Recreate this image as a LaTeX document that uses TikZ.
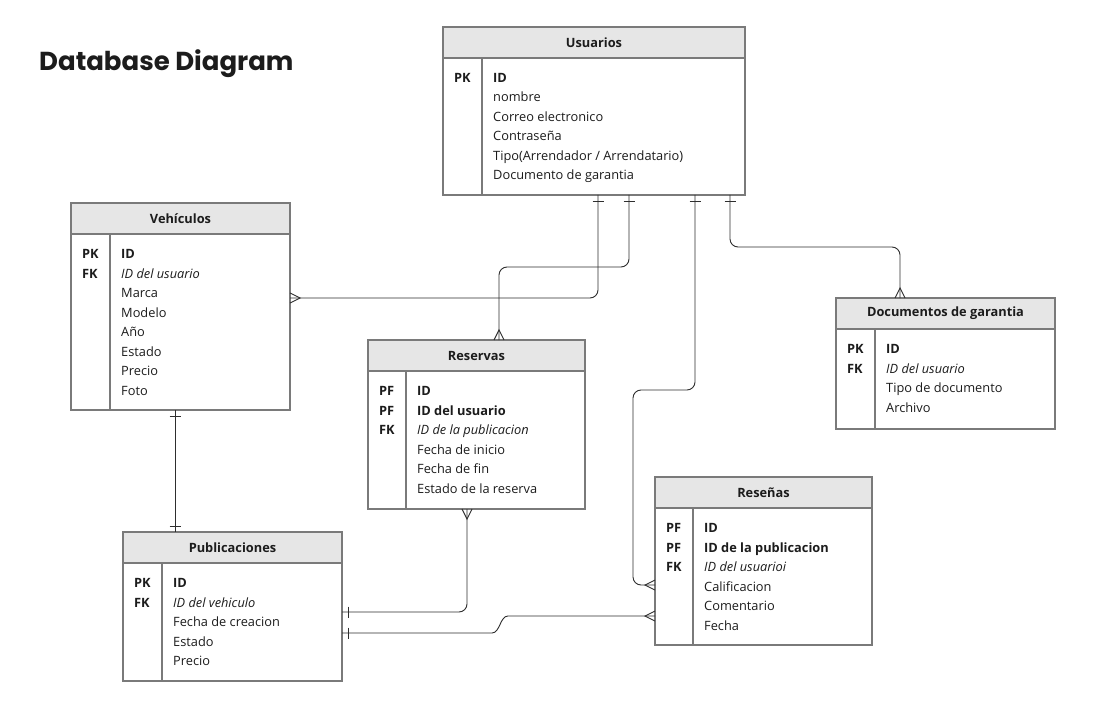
\documentclass[tikz,border=0pt]{standalone}
\usepackage{fontspec}
\setmainfont{Open Sans}
\newfontfamily\titlefont{Poppins}
\usetikzlibrary{positioning,decorations.markings}

\definecolor{tblgray}{HTML}{7A7A7A}
\definecolor{hdrfill}{HTML}{E6E6E6}
\definecolor{ink}{HTML}{1C1C1C}
\definecolor{relink}{HTML}{2E2E2E}

\tikzset{
  tbl/.style = {draw=tblgray, line width=1.6pt, inner sep=0pt, outer sep=0pt},
  hdr/.style = {tbl, fill=hdrfill},
  ttl/.style = {font=\bfseries\fontsize{12.8}{14}\selectfont, text=ink},
  fn/.style = {font=\fontsize{12.8}{14}\selectfont, text=ink, inner sep=0pt},
  fb/.style = {fn, font=\bfseries\fontsize{12.8}{14}\selectfont},
  fi/.style = {fn, font=\itshape\fontsize{12.8}{14}\selectfont},
  rel/.style = {draw=relink, line width=0.9pt},
  tip/.style = {rel, sharp corners},
  one start/.style = {postaction={decorate, decoration={markings,
      mark=at position 6pt with {\draw[tip] (0,-5.5pt) -- (0,5.5pt);}}}},
  one end/.style = {postaction={decorate, decoration={markings,
      mark=at position -6pt with {\draw[tip] (0,-5.5pt) -- (0,5.5pt);}}}},
  many start/.style = {postaction={decorate, decoration={markings,
      mark=at position 0.01pt with {\draw[tip] (0,5pt) -- (10pt,0) -- (0,-5pt);}}}},
  many end/.style = {postaction={decorate, decoration={markings,
      mark=at position -0.01pt with {\draw[tip] (0,5pt) -- (-10pt,0) -- (0,-5pt);}}}}
}

\begin{document}
\begin{tikzpicture}[x=1pt, y=-1pt]

  \useasboundingbox[fill=white] (0,0) rectangle (1100,722);

  \node[font=\titlefont\bfseries\fontsize{26}{30}\selectfont, text=ink, anchor=base west, inner sep=0pt]
    (title) at (39,71) {Database Diagram};

  % tables: name / x / y / width / height / key column / title
  \foreach \n/\x/\y/\w/\h/\d/\t in {
      usu/443/27/302/168/39/Usuarios,
      veh/71/203/219/207/39/Vehículos,
      res/368/340/217/169/38/Reservas,
      doc/836/298/219/131/39/Documentos de garantia,
      rsn/655/477/217/168/38/Reseñas,
      pub/123/532/219/149/39/Publicaciones}{
    \node[tbl, minimum width=\w pt, minimum height=\h pt, anchor=north west] (\n) at (\x,\y) {};
    \draw[hdr] (\n.north west) rectangle ([yshift=-31pt]\n.north east);
    \node[ttl] (\n-title) at ([yshift=-15.5pt]\n.north) {\t};
    \draw[tbl] ([xshift=\d pt, yshift=-31pt]\n.north west) -- ([xshift=\d pt]\n.south west);
  }

  % Usuarios
  \foreach \k [count=\i] in {PK}
    \node[fb, anchor=base west] (usu-k\i) at ([xshift=11pt, yshift=-55.5pt-(\i-1)*19.5pt]usu.north west) {\k};
  \foreach \f/\s [count=\i] in {ID/fb, nombre/fn, Correo electronico/fn, Contraseña/fn,
      {Tipo(Arrendador / Arrendatario)}/fn, Documento de garantia/fn}
    \node[\s, anchor=base west] (usu-f\i) at ([xshift=50pt, yshift=-55.5pt-(\i-1)*19.5pt]usu.north west) {\f};

  % Vehiculos
  \foreach \k [count=\i] in {PK, FK}
    \node[fb, anchor=base west] (veh-k\i) at ([xshift=11pt, yshift=-55.5pt-(\i-1)*19.5pt]veh.north west) {\k};
  \foreach \f/\s [count=\i] in {ID/fb, ID del usuario/fi, Marca/fn, Modelo/fn, Año/fn,
      Estado/fn, Precio/fn, Foto/fn}
    \node[\s, anchor=base west] (veh-f\i) at ([xshift=50pt, yshift=-55.5pt-(\i-1)*19.5pt]veh.north west) {\f};

  % Reservas
  \foreach \k [count=\i] in {PF, PF, FK}
    \node[fb, anchor=base west] (res-k\i) at ([xshift=11pt, yshift=-55.5pt-(\i-1)*19.5pt]res.north west) {\k};
  \foreach \f/\s [count=\i] in {ID/fb, ID del usuario/fb, ID de la publicacion/fi,
      Fecha de inicio/fn, Fecha de fin/fn, Estado de la reserva/fn}
    \node[\s, anchor=base west] (res-f\i) at ([xshift=49pt, yshift=-55.5pt-(\i-1)*19.5pt]res.north west) {\f};

  % Documentos de garantia
  \foreach \k [count=\i] in {PK, FK}
    \node[fb, anchor=base west] (doc-k\i) at ([xshift=11pt, yshift=-55.5pt-(\i-1)*19.5pt]doc.north west) {\k};
  \foreach \f/\s [count=\i] in {ID/fb, ID del usuario/fi, Tipo de documento/fn, Archivo/fn}
    \node[\s, anchor=base west] (doc-f\i) at ([xshift=50pt, yshift=-55.5pt-(\i-1)*19.5pt]doc.north west) {\f};

  % Resenas
  \foreach \k [count=\i] in {PF, PF, FK}
    \node[fb, anchor=base west] (rsn-k\i) at ([xshift=11pt, yshift=-55.5pt-(\i-1)*19.5pt]rsn.north west) {\k};
  \foreach \f/\s [count=\i] in {ID/fb, ID de la publicacion/fb, ID del usuarioi/fi,
      Calificacion/fn, Comentario/fn, Fecha/fn}
    \node[\s, anchor=base west] (rsn-f\i) at ([xshift=49pt, yshift=-55.5pt-(\i-1)*19.5pt]rsn.north west) {\f};

  % Publicaciones
  \foreach \k [count=\i] in {PK, FK}
    \node[fb, anchor=base west] (pub-k\i) at ([xshift=11pt, yshift=-55.5pt-(\i-1)*19.5pt]pub.north west) {\k};
  \foreach \f/\s [count=\i] in {ID/fb, ID del vehiculo/fi, Fecha de creacion/fn, Estado/fn, Precio/fn}
    \node[\s, anchor=base west] (pub-f\i) at ([xshift=50pt, yshift=-55.5pt-(\i-1)*19.5pt]pub.north west) {\f};

  % relations
  \coordinate (jog1) at (508,616);
  \coordinate (jog2) at (492,633);

  \draw[rel, rounded corners=8pt, one start, many end]
    ([xshift=155pt]usu.south west) |- ([yshift=8.5pt]veh.east);
  \draw[rel, rounded corners=8pt, one start, many end]
    ([xshift=186pt]usu.south west) -- ++(0,72) -| ([xshift=22.5pt]res.north);
  \draw[rel, rounded corners=8pt, one start, many end]
    ([xshift=252pt]usu.south west) -- ++(0,195) -- ++(-62,0) |- ([yshift=-24pt]rsn.west);
  \draw[rel, rounded corners=8pt, one start, many end]
    ([xshift=287pt]usu.south west) -- ++(0,52) -| ([xshift=-45.5pt]doc.north);
  \draw[rel, one start, one end]
    ([xshift=-5.5pt]veh.south) -- ([xshift=-57.5pt]pub.north);
  \draw[rel, rounded corners=8pt, many start, one end]
    ([xshift=-9.5pt]res.south) |- ([yshift=-5.5pt]pub.east);
  \draw[rel, many start, one end]
    ([yshift=-55pt]rsn.west) -- (jog1) .. controls +(-8,0) and +(8,0) .. (jog2)
    -- ([yshift=-26.5pt]pub.east);

\end{tikzpicture}
\end{document}
